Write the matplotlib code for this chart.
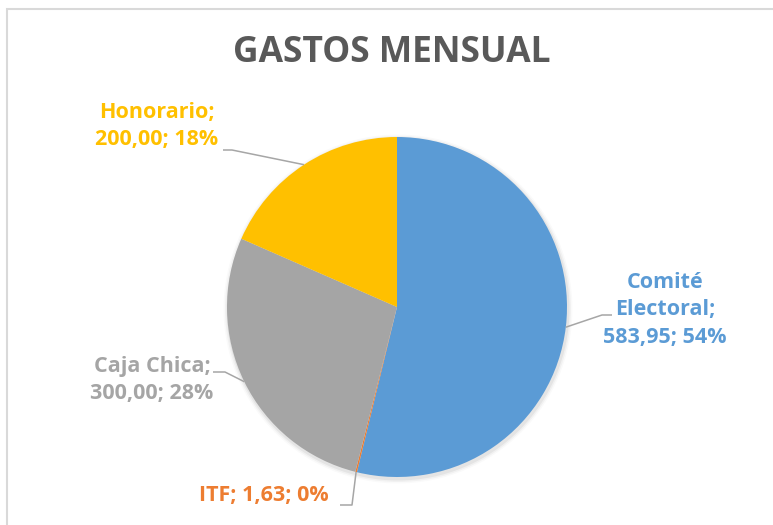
import matplotlib
matplotlib.use("Agg")
import matplotlib.pyplot as plt
from matplotlib.patches import Rectangle, Circle
import numpy as np

# datos del grafico
categorias = ["Comité Electoral", "ITF", "Caja Chica", "Honorario"]
montos = [583.95, 1.63, 300.00, 200.00]
colores = ["#5B9BD5", "#ED7D31", "#A5A5A5", "#FFC000"]
titulo = "GASTOS MENSUAL"

# layout en pixeles de la imagen (y hacia abajo)
W, H = 773, 525
cx, cy, radio = 397, 307, 170
# nombre con saltos, centro del texto, codo y fin de la linea guia
etiquetas = [
    ("Comité\nElectoral;\n", (665, 310), (602, 315), (612, 315), "center"),
    ("ITF; ", (264, 496), (352, 505), (340, 505), "center"),
    ("Caja Chica;\n", (152, 380), (225, 372), (213, 372), "center"),
    ("Honorario;\n", (157, 126), (232, 150), (223, 150), "center"),
]

plt.rcParams["font.family"] = ["Open Sans", "DejaVu Sans"]

fig = plt.figure(figsize=(W / 100, H / 100), dpi=100)
ax = fig.add_axes([0, 0, 1, 1])

def fy(y):
    return H - y

# marco del grafico
ax.add_patch(Rectangle((7, -30), W + 50, fy(9) + 30, fill=False,
                       edgecolor="#D9D9D9", lw=1.5))

# sombra suave
for i, a in enumerate([0.05, 0.035, 0.02]):
    ax.add_patch(Circle((cx + 1, fy(cy) - 2), radio + 1.5 + i * 1.5,
                        color="black", alpha=a, lw=0))

wedges, _ = ax.pie(montos, colors=colores, startangle=90, counterclock=False,
                   center=(cx, fy(cy)), radius=radio, frame=True,
                   wedgeprops=dict(linewidth=0))
ax.set_xlim(0, W)
ax.set_ylim(0, H)
ax.set_aspect("equal")
ax.axis("off")

total = sum(montos)
for w, m, col, (nombre, pos, codo, fin, ha) in zip(wedges, montos, colores, etiquetas):
    ang = np.deg2rad((w.theta1 + w.theta2) / 2)
    ex = cx + radio * np.cos(ang)
    ey = fy(cy) + radio * np.sin(ang)
    ax.plot([ex, codo[0], fin[0]], [ey, fy(codo[1]), fy(fin[1])],
            color="#A6A6A6", lw=1.1, solid_capstyle="butt")
    texto = f"{nombre}{m:.2f}".replace(".", ",") + f"; {round(m / total * 100)}%"
    ax.text(pos[0], fy(pos[1]), texto, color=col, fontsize=15.5,
            fontweight="bold", ha=ha, va="center", linespacing=1.4)

ax.text(392, fy(53), titulo, color="#595959", fontsize=25.5,
        fontweight="bold", ha="center", va="center")

fig.savefig("out.png", dpi=100, facecolor="white")
